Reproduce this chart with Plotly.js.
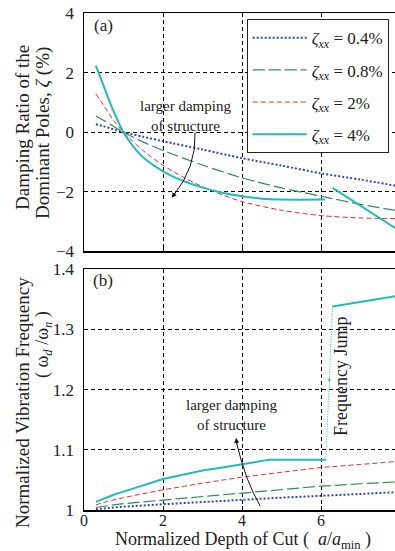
<!DOCTYPE html>
<html>
<head>
<meta charset="utf-8">
<script src="https://cdn.plot.ly/plotly-3.0.1.min.js"></script>
<style>html,body{margin:0;padding:0;background:#fff;}#chart{width:395px;height:551px;}</style>
</head>
<body>
<div id="chart"></div>
<script>
// ---- Data ----
const seriesNames = ["<i>ζ</i><sub><i>xx</i></sub> = 0.4%", "<i>ζ</i><sub><i>xx</i></sub> = 0.8%", "<i>ζ</i><sub><i>xx</i></sub> = 2%", "<i>ζ</i><sub><i>xx</i></sub> = 4%"];

// (a) damping ratio of dominant poles (%)
const xA_04 = [0.3, 0.5, 1, 1.5, 2, 3, 4, 5, 6, 7, 7.9];
const yA_04 = [0.27, 0.2, 0.0, -0.15, -0.3, -0.58, -0.87, -1.12, -1.38, -1.59, -1.8];
const xA_08 = [0.3, 0.5, 1, 1.5, 2, 3, 4, 5, 6, 7, 7.9];
const yA_08 = [0.55, 0.4, 0.0, -0.33, -0.61, -1.1, -1.53, -1.87, -2.15, -2.42, -2.63];
const xA_2 = [0.3, 0.5, 0.75, 1, 1.5, 2, 2.5, 3, 3.5, 4, 5, 6, 7, 7.9];
const yA_2 = [1.29, 0.9, 0.4, 0.0, -0.62, -1.11, -1.5, -1.83, -2.1, -2.33, -2.62, -2.8, -2.88, -2.9];
const xA_4 = [0.3, 0.5, 0.75, 1, 1.25, 1.5, 2, 2.5, 3, 3.5, 4, 4.5, 5, 6.1, null, 6.29, 7.9];
const yA_4 = [2.24, 1.55, 0.7, 0.0, -0.48, -0.85, -1.31, -1.63, -1.86, -2.03, -2.15, -2.23, -2.26, -2.26, null, -1.87, -3.24];

// (b) normalized vibration frequency
const xB_04 = [0.3, 1, 2, 3, 4, 5, 6, 7, 7.9];
const yB_04 = [1.002, 1.006, 1.010, 1.014, 1.017, 1.021, 1.024, 1.027, 1.030];
const xB_08 = [0.3, 1, 2, 3, 4, 5, 6, 7, 7.9];
const yB_08 = [1.005, 1.011, 1.017, 1.023, 1.029, 1.035, 1.040, 1.044, 1.047];
const xB_2 = [0.3, 0.6, 1, 2, 3, 4, 5, 6, 7, 7.9];
const yB_2 = [1.009, 1.015, 1.021, 1.034, 1.045, 1.055, 1.063, 1.071, 1.076, 1.081];
const xB_4 = [0.3, 0.45, 0.6, 0.8, 1, 1.5, 2, 2.5, 3, 3.5, 4, 4.7, 6.12, null, 6.29, 7.9];
const yB_4 = [1.014, 1.018, 1.022, 1.027, 1.031, 1.042, 1.052, 1.059, 1.066, 1.071, 1.076, 1.084, 1.084, null, 1.338, 1.355];
const xJump = [6.12, 6.29];
const yJump = [1.084, 1.338];

const yTicksA = [-4, -2, 0, 2, 4];
const yTickTextA = ["\u22124", "\u22122", "0", "2", "4"];
const yTicksB = [1, 1.1, 1.2, 1.3, 1.4];
const yTickTextB = ["1", "1.1", "1.2", "1.3", "1.4"];
const xTicks = [0, 2, 4, 6, 8];

// ---- Styles ----
const W = 395, H = 551;
const FONT = "Liberation Serif";
const TXT = '#222';
const colors = ["#2f45c0", "#2e9050", "#ee2a2a", "#20bcbc"];
const dashes = ["2px,2px", "12px,4px", "5px,3px", "solid"];
const widths = [2, 1.2, 1, 2];
const px = v => v / W;
const py = v => 1 - v / H;
const f = s => ({family: FONT, size: s, color: TXT});

const xAs = [xA_04, xA_08, xA_2, xA_4], yAs = [yA_04, yA_08, yA_2, yA_4];
const xBs = [xB_04, xB_08, xB_2, xB_4], yBs = [yB_04, yB_08, yB_2, yB_4];

const traces = [];
for (let i = 0; i < 4; i++) {
  traces.push({
    x: xAs[i], y: yAs[i], xaxis: 'x', yaxis: 'y', mode: 'lines', name: seriesNames[i],
    legendgroup: 'g' + i, showlegend: true, connectgaps: false,
    line: {color: colors[i], dash: dashes[i], width: widths[i], shape: 'spline', smoothing: 0.8}
  });
}
for (let i = 0; i < 4; i++) {
  traces.push({
    x: xBs[i], y: yBs[i], xaxis: 'x2', yaxis: 'y2', mode: 'lines', name: seriesNames[i],
    legendgroup: 'g' + i, showlegend: false, connectgaps: false,
    line: {color: colors[i], dash: dashes[i], width: widths[i]}
  });
}
traces.push({
  x: xJump, y: yJump, xaxis: 'x2', yaxis: 'y2', mode: 'lines', showlegend: false,
  line: {color: colors[3], dash: '1px,1.5px', width: 1}
});

const axisCommon = {
  showline: true, linecolor: '#000', linewidth: 1.5, zeroline: false,
  ticks: 'inside', ticklen: 4, tickcolor: '#000',
  tickfont: f(17),
  showgrid: true, gridcolor: '#000', griddash: '4px,3px', gridwidth: 1
};

const ann = (x, y, text, size, extra) => Object.assign({
  xref: 'paper', yref: 'paper', x: px(x), y: py(y), text: text, showarrow: false,
  xanchor: 'center', yanchor: 'middle', font: f(size)
}, extra || {});

const layout = {
  width: W, height: H,
  margin: {l: 0, r: 0, t: 0, b: 0},
  paper_bgcolor: '#fff', plot_bgcolor: '#fff',
  font: f(17),
  xaxis: Object.assign({}, axisCommon, {
    domain: [px(84), 1], range: [0, 7.87], tickvals: xTicks, showticklabels: false,
    mirror: true, anchor: 'y'
  }),
  yaxis: Object.assign({}, axisCommon, {
    domain: [py(251.3), py(13.3)], range: [-4, 4], tickvals: yTicksA, ticktext: yTickTextA,
    anchor: 'x', ticklabelstandoff: 5
  }),
  xaxis2: Object.assign({}, axisCommon, {
    domain: [px(84), 1], range: [0, 7.87], tickvals: xTicks, mirror: true, anchor: 'y2',
    ticklabelstandoff: -5, tickfont: f(16)
  }),
  yaxis2: Object.assign({}, axisCommon, {
    domain: [py(510.3), py(269)], range: [1, 1.4], tickvals: yTicksB, ticktext: yTickTextB,
    anchor: 'x2', ticklabelstandoff: 5
  }),
  showlegend: true,
  legend: {
    x: px(246.7), y: py(19.3), xanchor: 'left', yanchor: 'top',
    bgcolor: '#fff', bordercolor: '#222', borderwidth: 1,
    font: f(17), tracegroupgap: 7, itemwidth: 54
  },
  shapes: [
    {type: 'path', xref: 'x', yref: 'y', path: 'M 2.81,-0.01 Q 2.85,-1.18 2.24,-2.17', line: {color: '#111', width: 1}},
    {type: 'path', xref: 'x2', yref: 'y2', path: 'M 4.46,1.007 Q 4.09,1.048 3.86,1.112', line: {color: '#111', width: 1}}
  ],
  annotations: [
    ann(103, 25, '(a)', 17),
    ann(103, 280, '(b)', 17),
    ann(185, 116.5, 'larger damping<br>of structure', 15),
    ann(231, 415, 'larger damping<br>of structure', 15),
    {xref: 'x', yref: 'y', x: 2.22, y: -2.2, ax: 5, ay: -7, text: '', showarrow: true, arrowhead: 2, arrowsize: 1, arrowwidth: 1, arrowcolor: '#111'},
    {xref: 'x2', yref: 'y2', x: 3.848, y: 1.12, ax: 1, ay: 8, text: '', showarrow: true, arrowhead: 2, arrowsize: 1, arrowwidth: 1, arrowcolor: '#111'},
    {xref: 'x2', yref: 'y2', x: 6.21, y: 1.22, ax: 0, ay: 6, text: '', showarrow: true, arrowhead: 2, arrowsize: 0.6, arrowwidth: 1, arrowcolor: colors[3]},
    ann(341, 377, 'Frequency Jump', 18, {textangle: -90}),
    ann(22, 128, 'Damping Ratio of the', 19, {textangle: -90}),
    ann(43, 133, 'Dominant Poles, <i>ζ</i> (%)', 19, {textangle: -90}),
    ann(22, 403, 'Normalized Vibration Frequency', 19, {textangle: -90}),
    ann(43, 345, '( ω<sub><i>d</i></sub> /ω<sub><i>n</i></sub> )', 18, {textangle: -90}),
    ann(243, 540.5, 'Normalized Depth of Cut (  <i>a</i>/<i>a</i><sub>min</sub> )', 18)
  ]
};

Plotly.newPlot('chart', traces, layout, {staticPlot: true, displayModeBar: false});
</script>
</body>
</html>
